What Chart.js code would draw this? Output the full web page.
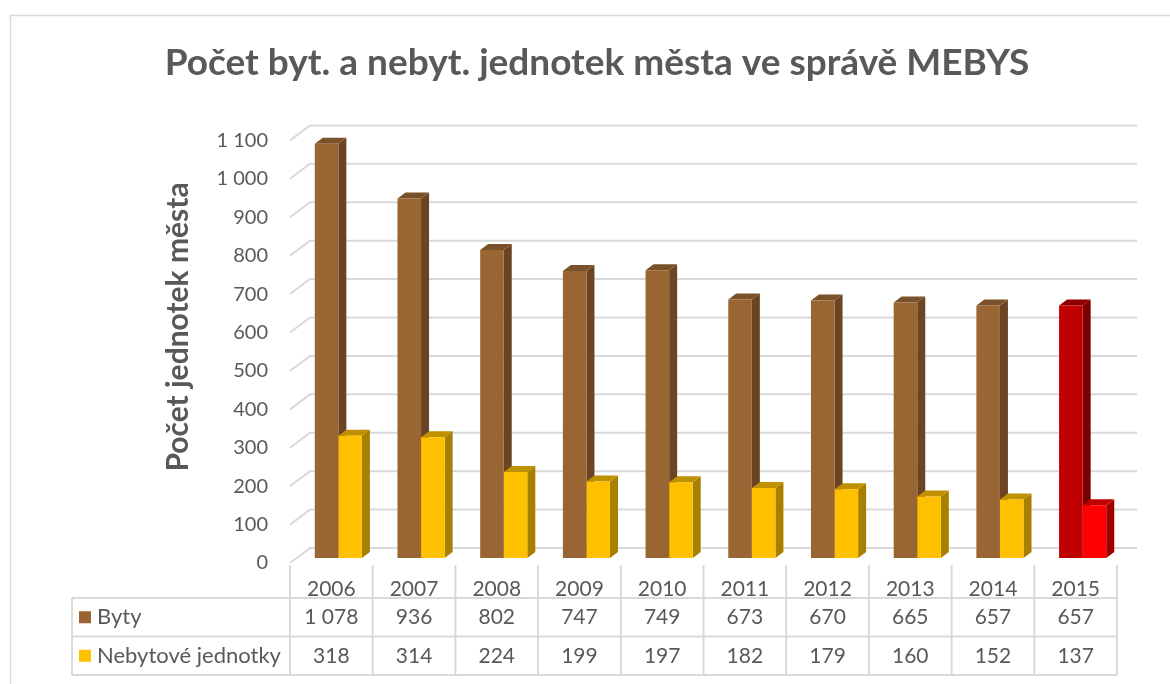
<!DOCTYPE html>
<html><head><meta charset="utf-8">
<script src="https://cdn.jsdelivr.net/npm/chart.js@4/dist/chart.umd.min.js"></script>
<style>html,body{margin:0;padding:0;background:#fff}#wrap{width:1170px;height:684px}</style>
</head><body><div id="wrap"><canvas id="c" width="1170" height="684"></canvas></div>
<script>
// ---- data ----
const years = ['2006','2007','2008','2009','2010','2011','2012','2013','2014','2015'];
const byty = [1078, 936, 802, 747, 749, 673, 670, 665, 657, 657];
const nebyt = [318, 314, 224, 199, 197, 182, 179, 160, 152, 137];
const seriesNames = ['Byty', 'Nebytové jednotky'];
const yMin = 0, yMax = 1100, yStep = 100;
const chartTitle = 'Počet byt. a nebyt. jednotek města ve správě MEBYS';
const axisTitle = 'Počet jednotek města';

// ---- style ----
const FONT = 'Lato';
const TXT = '#595959';
const GRID = '#D9D9D9';
const styles = [
  {front:'#996633', side:'#6B4424', top:'#7A5128', hiFront:'#C00000', hiSide:'#7A0000', hiTop:'#900000'},
  {front:'#FFC000', side:'#A88000', top:'#BF9000', hiFront:'#FF0000', hiSide:'#A00000', hiTop:'#C00000'}
];
const HI = years.length - 1;
const WX = 20, WY = 15;   // wall depth
const BX = 7, BY = 5;     // bar depth offset
const DX = 8, DY = 6;     // bar thickness
const fmt = v => String(v).replace(/\B(?=(\d{3})+(?!\d))/g, ' ');
const pick = (ds, i, k) => i === HI ? styles[ds]['hi' + k[0].toUpperCase() + k.slice(1)] : styles[ds][k];

const threeD = {
  id: 'threeD',
  beforeDraw(chart) {
    const ctx = chart.ctx;
    ctx.save();
    ctx.fillStyle = '#fff';
    ctx.fillRect(0, 0, chart.width, chart.height);
    ctx.strokeStyle = GRID; ctx.lineWidth = 1.5;
    ctx.beginPath();
    ctx.moveTo(10.5, chart.height); ctx.lineTo(10.5, 15.5); ctx.lineTo(chart.width, 15.5);
    ctx.stroke();
    ctx.restore();
  },
  beforeDatasetsDraw(chart) {
    const ctx = chart.ctx, ys = chart.scales.y, ca = chart.chartArea;
    ctx.save();
    ctx.strokeStyle = GRID; ctx.lineWidth = 2;
    ys.ticks.forEach(t => {
      const y = ys.getPixelForValue(t.value);
      ctx.beginPath();
      ctx.moveTo(ca.left, y); ctx.lineTo(ca.left + WX, y - WY); ctx.lineTo(ca.right + WX, y - WY);
      ctx.stroke();
    });
    ctx.restore();
    ctx.save();
    ctx.translate(BX, -BY);
    chart.data.datasets.forEach((ds, di) => {
      const meta = chart.getDatasetMeta(di);
      meta.data.forEach((el, i) => {
        const {x, y, base, width} = el.getProps(['x','y','base','width'], true);
        const l = x - width / 2, r = x + width / 2;
        ctx.fillStyle = pick(di, i, 'side');
        ctx.beginPath();
        ctx.moveTo(r, y); ctx.lineTo(r + DX, y - DY); ctx.lineTo(r + DX, base - DY); ctx.lineTo(r, base);
        ctx.closePath(); ctx.fill();
        ctx.fillStyle = pick(di, i, 'top');
        ctx.beginPath();
        ctx.moveTo(l, y); ctx.lineTo(l + DX, y - DY); ctx.lineTo(r + DX, y - DY); ctx.lineTo(r, y);
        ctx.closePath(); ctx.fill();
      });
    });
  },
  afterDatasetsDraw(chart) {
    chart.ctx.restore();
  },
  afterDraw(chart) {
    const ctx = chart.ctx, xs = chart.scales.x, ca = chart.chartArea;
    const n = years.length, cw = (xs.right - xs.left) / n;
    const top = xs.bottom, rh = 38.5, tl = 72;
    ctx.save();
    ctx.strokeStyle = GRID; ctx.lineWidth = 2;
    for (let i = 0; i <= n; i++) {
      const x = xs.left + i * cw;
      ctx.beginPath(); ctx.moveTo(x, ca.bottom + 2); ctx.lineTo(x, top + 2 * rh); ctx.stroke();
    }
    for (let r = 0; r <= 2; r++) {
      ctx.beginPath(); ctx.moveTo(tl, top + r * rh); ctx.lineTo(xs.right, top + r * rh); ctx.stroke();
    }
    ctx.beginPath(); ctx.moveTo(tl, top); ctx.lineTo(tl, top + 2 * rh); ctx.stroke();
    ctx.textBaseline = 'middle';
    [byty, nebyt].forEach((arr, r) => {
      const cy = top + r * rh + rh / 2;
      ctx.fillStyle = styles[r].front;
      ctx.fillRect(79, cy - 6, 12, 12);
      ctx.fillStyle = TXT; ctx.textAlign = 'left';
      ctx.font = '22px ' + FONT;
      ctx.fillText(seriesNames[r], 97, cy);
      ctx.textAlign = 'center';
      ctx.font = '21px ' + FONT;
      arr.forEach((v, i) => ctx.fillText(fmt(v), xs.left + (i + 0.5) * cw, cy));
    });
    ctx.save();
    ctx.translate(178, 327); ctx.rotate(-Math.PI / 2);
    ctx.font = 'bold 30px ' + FONT; ctx.textAlign = 'center'; ctx.fillStyle = TXT;
    ctx.fillText(axisTitle, 0, 0);
    ctx.restore();
    ctx.restore();
  }
};

new Chart(document.getElementById('c'), {
  type: 'bar',
  data: {
    labels: years,
    datasets: [
      {label: seriesNames[0], data: byty, backgroundColor: c => pick(0, c.dataIndex, 'front'), clip: false},
      {label: seriesNames[1], data: nebyt, backgroundColor: c => pick(1, c.dataIndex, 'front'), clip: false}
    ]
  },
  options: {
    responsive: false,
    animation: false,
    layout: {padding: {left: 77, right: 53, top: 0, bottom: 86}},
    datasets: {bar: {categoryPercentage: 0.57, barPercentage: 1, borderWidth: 0}},
    plugins: {
      legend: {display: false},
      tooltip: {enabled: false},
      title: {display: true, text: chartTitle, color: TXT,
        font: {family: FONT, size: 37, weight: 'bold'}, padding: {top: 41, bottom: 55}}
    },
    scales: {
      x: {
        grid: {display: false}, border: {display: false},
        ticks: {color: TXT, font: {family: FONT, size: 21}, padding: 6},
        afterFit: s => { s.height = 35; }
      },
      y: {
        min: yMin, max: yMax,
        grid: {display: false, drawTicks: false}, border: {display: false},
        ticks: {stepSize: yStep, color: TXT, font: {family: FONT, size: 20}, padding: 22, callback: v => fmt(v)},
        afterFit: s => { s.width = 213; }
      }
    }
  },
  plugins: [threeD]
});
</script></body></html>
